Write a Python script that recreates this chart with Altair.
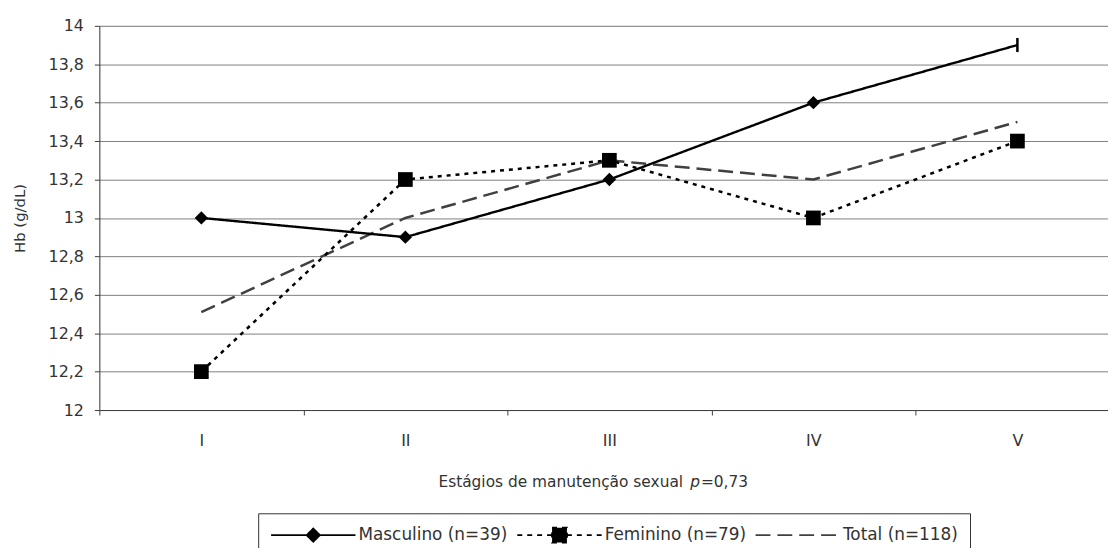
import altair as alt
import pandas as pd

stages = ["I", "II", "III", "IV", "V"]
masculino = [13.0, 12.9, 13.2, 13.6, 13.9]
feminino = [12.2, 13.2, 13.3, 13.0, 13.4]
total = [12.51, 13.0, 13.3, 13.2, 13.5]
series = ["Masculino (n=39)", "Feminino (n=79)", "Total (n=118)"]
y_ticks = [12.0, 12.2, 12.4, 12.6, 12.8, 13.0, 13.2, 13.4, 13.6, 13.8, 14.0]
y_title = "Hb (g/dL)"
x_title_parts = ["Estágios de manutenção sexual", "p", "=0,73"]

rows = []
for name, vals in zip(series, [masculino, feminino, total]):
    for s, v in zip(stages, vals):
        rows.append({"serie": name, "estagio": s, "hb": v})
df = pd.DataFrame(rows)

FONT = "DejaVu Sans"
TXT = "#333333"
AX = "#404040"

x_enc = alt.X(
    "estagio:N",
    sort=stages,
    bandPosition=0.5,
    scale=alt.Scale(type="band", domain=stages, range=[0, 1027.5], paddingInner=0, paddingOuter=0),
    axis=alt.Axis(
        title=None, tickBand="extent", ticks=True, tickSize=5, labelPadding=18,
        labelAngle=0, domainColor=AX, tickColor=AX, labelColor=TXT,
        labelFontSize=16, labelFont=FONT, grid=False,
    ),
)
y_enc = alt.Y(
    "hb:Q",
    scale=alt.Scale(domain=[12, 14], nice=False, zero=False),
    axis=alt.Axis(
        title=y_title, values=y_ticks, grid=True, gridColor="#808080", gridWidth=1,
        tickSize=5, tickColor=AX, domainColor=AX,
        labelExpr="replace(format(datum.value, '.1~f'), '.', ',')",
        labelPadding=11, labelColor=TXT, labelFontSize=16, labelFont=FONT,
        titleFont=FONT, titleFontSize=15, titleFontWeight="normal", titleColor=TXT,
        titlePadding=21,
    ),
)

base = alt.Chart(df)


def line_layer(name, color, dash, width):
    return base.transform_filter(alt.datum.serie == name).mark_line(
        color=color, strokeDash=dash, strokeWidth=width
    ).encode(x=x_enc, y=y_enc)


line_m = line_layer(series[0], "#000000", [1, 0], 2.4)
line_f = line_layer(series[1], "#000000", [4, 5], 2.5)
line_t = line_layer(series[2], "#404040", [15, 7], 2.5)

masc_pts = base.transform_filter(
    (alt.datum.serie == series[0]) & (alt.datum.estagio != "V")
).mark_point(shape="diamond", filled=True, color="black", opacity=1, size=180).encode(x=x_enc, y=y_enc)

masc_end = base.transform_filter(
    (alt.datum.serie == series[0]) & (alt.datum.estagio == "V")
).mark_point(shape="M0,-1L0,1", filled=False, color="black", strokeWidth=2.5, opacity=1, size=200).encode(x=x_enc, y=y_enc)

fem_pts = base.transform_filter(
    alt.datum.serie == series[1]
).mark_point(shape="square", filled=True, color="black", opacity=1, size=220).encode(x=x_enc, y=y_enc)

leg_paths = [
    "M-1,0L1,0M0,-0.153L0.153,0L0,0.153L-0.153,0Z",
    "M-1,0L1,0M-0.176,-0.176L0.176,-0.176L0.176,0.176L-0.176,0.176Z",
    "M-1,0L1,0",
]
leg_colors = ["#000000", "#000000", "#404040"]
legend_layer = base.mark_point(opacity=0, filled=True, color="black").encode(
    x=x_enc, y=y_enc,
    shape=alt.Shape(
        "serie:N",
        sort=series,
        scale=alt.Scale(domain=series, range=leg_paths),
        legend=alt.Legend(
            orient="none", legendX=160, legendY=491, direction="horizontal", title=None,
            symbolSize=7225, symbolOpacity=1, symbolStrokeWidth=2, clipHeight=20,
            labelFont=FONT, labelFontSize=17, labelColor=TXT,
            labelOffset=2, columnPadding=8, padding=12, strokeColor="#333333",
            fillColor="white", cornerRadius=0,
        ),
    ),
    strokeDash=alt.StrokeDash("serie:N", sort=series,
                              scale=alt.Scale(domain=series, range=[[1, 0], [5, 5], [15, 7]])),
    stroke=alt.Stroke("serie:N", sort=series, scale=alt.Scale(domain=series, range=leg_colors)),
)

t1 = alt.Chart(pd.DataFrame({"t": [x_title_parts[0]]})).mark_text(
    align="right", baseline="middle", font=FONT, fontSize=15.5, color=TXT
).encode(text="t:N", x=alt.value(588), y=alt.value(460))
t2 = alt.Chart(pd.DataFrame({"t": [x_title_parts[1]]})).mark_text(
    align="center", baseline="middle", font=FONT, fontSize=15.5, fontStyle="italic", color=TXT
).encode(text="t:N", x=alt.value(600), y=alt.value(460))
t3 = alt.Chart(pd.DataFrame({"t": [x_title_parts[2]]})).mark_text(
    align="left", baseline="middle", font=FONT, fontSize=15.5, color=TXT
).encode(text="t:N", x=alt.value(606), y=alt.value(460))

chart = alt.layer(line_t, line_f, line_m, masc_pts, masc_end, fem_pts, legend_layer, t1, t2, t3).properties(
    width=1016, height=387,
    autosize=alt.AutoSizeParams(type="none"),
    padding={"left": 92, "top": 16, "right": 0, "bottom": 137},
    background="white",
).configure_view(stroke=None).configure(font=FONT)

chart.save("out.html", embed_options={"renderer": "svg", "actions": False})
